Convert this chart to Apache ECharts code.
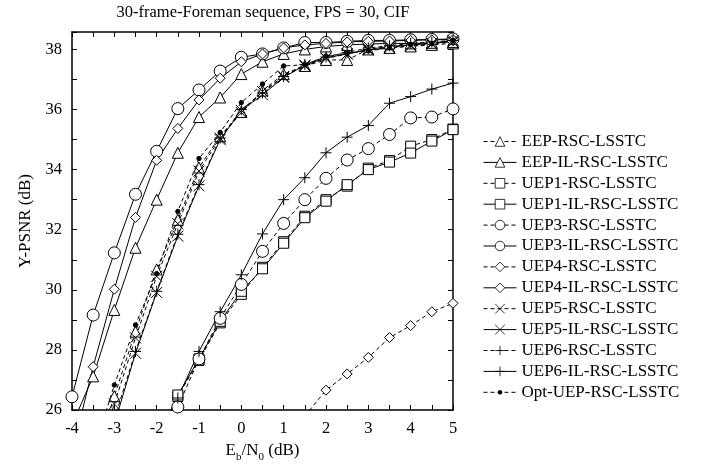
<!DOCTYPE html>
<html>
<head>
<meta charset="utf-8">
<script src="https://cdn.jsdelivr.net/npm/echarts@6/dist/echarts.min.js"></script>
<style>
    html, body { margin: 0; padding: 0; background: #fff; }
    #psnrChart { width: 710px; height: 468px; }
</style>
</head>
<body>
<div id="psnrChart"></div>
<script>
// Eb/N0 (dB)
var ebn0 = [-4, -3.5, -3, -2.5, -2, -1.5, -1, -0.5, 0, 0.5, 1, 1.5, 2, 2.5, 3, 3.5, 4, 4.5, 5];

// Y-PSNR (dB), null = no point
var eep      = [null, 24.3, 26.46, 28.61, 30.68, 32.33, 34.07, 35.11, 35.92, 36.63, 37.18, 37.45, 37.65, 37.65, 38.0, 38.05, 38.1, 38.15, 38.2];
var eepIL    = [25.5, 27.12, 29.33, 31.4, 33.0, 34.56, 35.75, 36.4, 37.18, 37.59, 37.85, 38.0, 38.1, 38.15, 38.18, 38.2, 38.2, 38.22, 38.25];
var uep1     = [null, null, null, null, 24.9, 26.45, 27.65, 28.9, 29.85, 30.75, 31.6, 32.45, 33.0, 33.45, 34.05, 34.3, 34.78, 35.0, 35.35];
var uep1IL   = [null, null, null, null, 25.0, 26.5, 27.7, 28.95, 29.95, 30.7, 31.55, 32.4, 32.95, 33.5, 34.0, 34.25, 34.55, 34.95, 35.33];
var uep3     = [null, null, null, null, 24.4, 26.1, 27.7, 29.05, 30.18, 31.28, 32.21, 33.0, 33.71, 34.32, 34.7, 35.17, 35.72, 35.75, 36.02];
var uep3IL   = [26.44, 29.16, 31.23, 33.18, 34.61, 36.03, 36.65, 37.28, 37.74, 37.85, 38.05, 38.23, 38.23, 38.27, 38.3, 38.3, 38.32, 38.33, 38.35];
var uep4     = [null, null, null, null, null, null, null, null, null, null, null, 25.8, 26.66, 27.2, 27.75, 28.41, 28.81, 29.27, 29.55];
var uep4IL   = [24.6, 27.44, 30.02, 32.41, 34.31, 35.37, 36.32, 37.04, 37.59, 37.85, 38.05, 38.15, 38.2, 38.25, 38.27, 38.28, 38.3, 38.32, 38.33];
var uep5     = [null, 24.0, 26.2, 28.4, 30.45, 32.2, 33.95, 35.05, 35.9, 36.6, 37.1, 37.45, 37.7, 37.85, 37.98, 38.05, 38.12, 38.18, 38.25];
var uep5IL   = [null, null, 25.53, 27.89, 29.91, 31.79, 33.46, 35.0, 35.97, 36.49, 37.07, 37.48, 37.72, 37.85, 38.0, 38.1, 38.15, 38.2, 38.3];
var uep6     = [null, null, 25.7, 27.95, 29.95, 31.85, 33.5, 35.05, 36.0, 36.55, 37.1, 37.5, 37.75, 37.9, 38.05, 38.12, 38.2, 38.25, 38.3];
var uep6IL   = [null, null, null, null, 24.8, 26.4, 27.95, 29.27, 30.5, 31.86, 33.0, 33.73, 34.56, 35.08, 35.47, 36.21, 36.43, 36.68, 36.88];
var optUep   = [null, 24.6, 26.83, 28.83, 30.54, 32.61, 34.37, 35.24, 36.23, 36.85, 37.45, 37.49, 37.78, 37.87, 37.95, 38.05, 38.17, 38.2, 38.3];

var seriesNames = [
    'EEP-RSC-LSSTC', 'EEP-IL-RSC-LSSTC',
    'UEP1-RSC-LSSTC', 'UEP1-IL-RSC-LSSTC',
    'UEP3-RSC-LSSTC', 'UEP3-IL-RSC-LSSTC',
    'UEP4-RSC-LSSTC', 'UEP4-IL-RSC-LSSTC',
    'UEP5-RSC-LSSTC', 'UEP5-IL-RSC-LSSTC',
    'UEP6-RSC-LSSTC', 'UEP6-IL-RSC-LSSTC',
    'Opt-UEP-RSC-LSSTC'
];
var seriesValues = [eep, eepIL, uep1, uep1IL, uep3, uep3IL, uep4, uep4IL, uep5, uep5IL, uep6, uep6IL, optUep];

var FONT = '"Liberation Serif", "DejaVu Serif", serif';
var crossPath = 'path://M0,0L10,10M10,0L0,10';
var plusPath = 'path://M5,0L5,10M0,5L10,5';
// small dot inside a 10x10 box so the legend icon stays small too
var dotPath = 'path://M0,0M10,10M5,3A2,2,0,1,1,5,7A2,2,0,1,1,5,3Z';

// marker, size, dashed, filled
var styles = [
    ['triangle', 11, true, false], ['triangle', 11, false, false],
    ['rect', 10, true, false], ['rect', 10, false, false],
    ['circle', 12, true, false], ['circle', 12, false, false],
    ['diamond', 10, true, false], ['diamond', 10, false, false],
    [crossPath, 11, true, false], [crossPath, 11, false, false],
    [plusPath, 11, true, false], [plusPath, 11, false, false],
    [dotPath, 11, true, true]
];

function pairs(vals) {
    var out = [];
    for (var i = 0; i < ebn0.length; i++) {
        if (vals[i] !== null) out.push([ebn0[i], vals[i]]);
    }
    return out;
}

var series = [];
for (var k = 0; k < seriesNames.length; k++) {
    series.push({
        name: seriesNames[k],
        type: 'line',
        data: pairs(seriesValues[k]),
        symbol: styles[k][0],
        symbolSize: styles[k][1],
        showAllSymbol: true,
        clip: true,
        lineStyle: { color: '#000', width: 1, type: styles[k][2] ? [4, 3] : 'solid' },
        itemStyle: { color: styles[k][3] ? '#000' : '#fff', borderColor: '#000', borderWidth: 1 }
    });
}

var axisCommon = {
    axisLine: { onZero: false, lineStyle: { color: '#000', width: 1.5 } },
    axisTick: { inside: true, length: 5, lineStyle: { color: '#000' } },
    splitLine: { show: false }
};

var chart = echarts.init(document.getElementById('psnrChart'), null, { renderer: 'canvas' });
var option = {
    animation: false,
    backgroundColor: '#fff',
    title: {
        text: '30-frame-Foreman sequence, FPS = 30, CIF',
        left: 263,
        top: 4,
        padding: 0,
        textAlign: 'center',
        textStyle: { fontFamily: FONT, fontSize: 16.5, fontWeight: 'normal', color: '#000' }
    },
    grid: { left: 72, right: 257, top: 32, bottom: 56, containLabel: false },
    legend: {
        orient: 'vertical',
        left: 483,
        top: 133,
        padding: 0,
        itemWidth: 33,
        itemHeight: 12,
        itemGap: 3.9,
        data: seriesNames,
        lineStyle: { width: 1 },
        itemStyle: { borderWidth: 0.8 },
        textStyle: { fontFamily: FONT, fontSize: 17, color: '#000' }
    },
    xAxis: [
        Object.assign({}, axisCommon, {
            type: 'value', min: -4, max: 5, interval: 0.5, position: 'bottom',
            axisLabel: {
                color: '#000', fontFamily: FONT, fontSize: 16.5, margin: 10,
                formatter: function (v) { return Number.isInteger(v) ? String(v) : ''; }
            },
            name: '{a|E}{s|b}{a|/N}{s|0}{a| (dB)}',
            nameLocation: 'middle',
            nameGap: 32,
            nameTextStyle: {
                rich: {
                    a: { fontFamily: FONT, fontSize: 17, lineHeight: 20, verticalAlign: 'top', color: '#000' },
                    s: { fontFamily: FONT, fontSize: 11, lineHeight: 11, padding: [10, 0, 0, 0], verticalAlign: 'top', color: '#000' }
                }
            }
        }),
        Object.assign({}, axisCommon, {
            type: 'value', min: -4, max: 5, interval: 0.5, position: 'top',
            axisLabel: { show: false }
        })
    ],
    yAxis: [
        Object.assign({}, axisCommon, {
            type: 'value', min: 26, max: 38.58, interval: 1, position: 'left',
            axisLabel: {
                color: '#000', fontFamily: FONT, fontSize: 16.5, margin: 10,
                formatter: function (v) { return (Number.isInteger(v) && v % 2 === 0) ? String(v) : ''; }
            },
            name: 'Y-PSNR (dB)',
            nameLocation: 'middle',
            nameGap: 38,
            nameTextStyle: { fontFamily: FONT, fontSize: 17, color: '#000' }
        }),
        Object.assign({}, axisCommon, {
            type: 'value', min: 26, max: 38.58, interval: 1, position: 'right',
            axisLabel: { show: false }
        })
    ],
    series: series
};
chart.setOption(option);
</script>
</body>
</html>
